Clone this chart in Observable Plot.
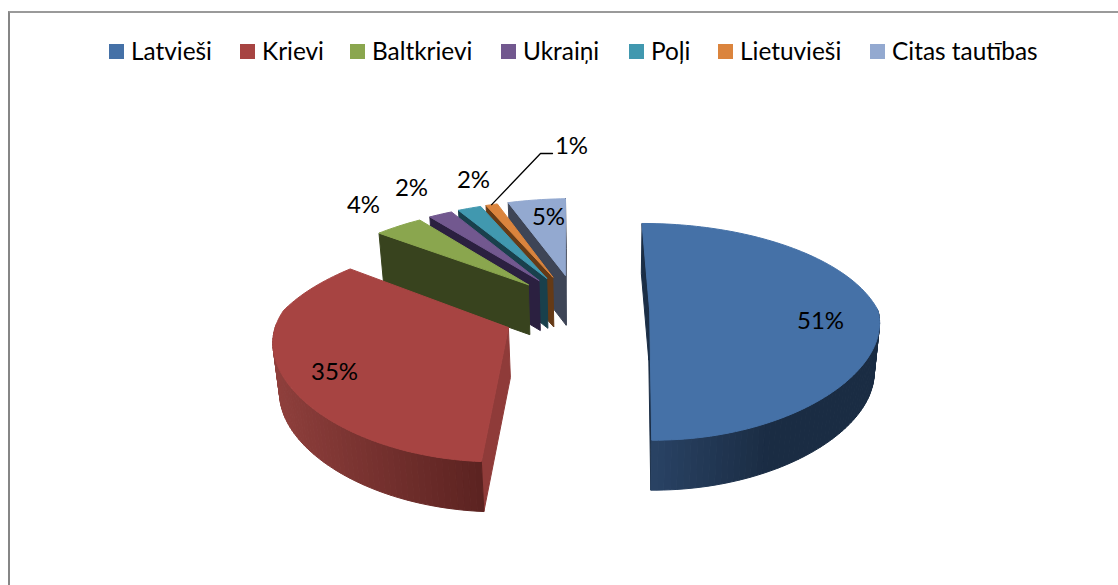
<!DOCTYPE html>
<html><head><meta charset="utf-8">
<script src="https://cdn.jsdelivr.net/npm/d3@7"></script>
<script src="https://cdn.jsdelivr.net/npm/@observablehq/plot@0.6"></script>
<style>
html,body{margin:0;padding:0;background:#fff;overflow:hidden}
#frame{position:absolute;left:8px;top:11px;width:1112px;height:576px;border-left:2px solid #868686;border-top:2px solid #9a9a9a;box-sizing:border-box}
#legend{position:absolute;left:109px;top:36px;display:flex;font:24.4px Lato,sans-serif;color:#000;line-height:30px;white-space:nowrap}
#legend span.k{display:inline-block;width:15px;height:15px;margin-right:7px;flex:none}
#legend div{display:flex;align-items:center}
#chart{position:absolute;left:0;top:0}
</style></head><body>
<div id="chart"></div><div id="frame"></div><div id="legend"></div>
<script>
const names=["Latvieši","Krievi","Baltkrievi","Ukraiņi","Poļi","Lietuvieši","Citas tautības"];
const values=[51,35,4,2,2,1,5];
const topColors=["#4571a7","#a74442","#8aa64e","#72588f","#4198af","#db843d","#93a9d0"];
const wallColors=["#1b2e46","#8f3b39","#38431e","#2b2040","#19404c","#653a16","#3e4556"];
const rimFrom=["#2b4568","#8f3f3c","#38431e","#2b2040","#19404c","#653a16","#3e4556"];
const rimTo=["#1a2c43","#5c2321","#38431e","#2b2040","#19404c","#653a16","#3e4556"];
const labelText=["51%","35%","4%","2%","2%","1%","5%"];
const labelX=[820,334,363,411,473,571,548];
const labelY=[321,372,205,188,180,146,217];
const itemWidths=[131,110,151,128,89,152,170];

// perspective view of the pie
const rot=-2,k=0.198,kNear=0.1,H=526,vy=-216,vx=607,A=233,xc=-0.134,ex=0.315,ey=0.37,depth=50,shrink=0.98;
const adjStart=[1.8,2,0,0,0,0,0],adjEnd=[-1,0,0,0,0,0,0],radiusX=[0.98,0.985,1,1,1,1,1],radiusY=[1,0.97,1,1,1,1,1];
const rad=Math.PI/180, total=d3.sum(values);
function proj(X,Y,bottom){
  const s=1/(1+k*Y), sx=Y<0?1/(1+kNear*Y):s;
  const x=vx+X*A*sx, y=vy+H*s;
  return bottom?[vx+(x-vx)*shrink,y+depth]:[x,y];
}
let cum=0;
const slices=values.map((v,i)=>{
  const a0=rot+cum/total*360; cum+=v; const a1=rot+cum/total*360; const m=(a0+a1)/2*rad;
  return {i,a0:a0+adjStart[i],a1:a1+adjEnd[i],ox:xc+ex*Math.sin(m),oy:ey*Math.cos(m)};
});
const rows=[];let pid=0;
function poly(pts,fill){pid++;for(const p of [...pts,pts[0]])rows.push({id:pid,x:p[0],y:p[1],fill});}
const rim=(s,a,b)=>proj(s.ox+radiusX[s.i]*Math.sin(a*rad),s.oy+radiusY[s.i]*Math.cos(a*rad),b);
const area=q=>d3.polygonArea(q);
const order=[6,5,4,3,2,0,1];
for(const n of order){
  const s=slices[n];
  const apT=proj(s.ox,s.oy,false),apB=proj(s.ox,s.oy,true);
  const q0=[apT,rim(s,s.a0,false),rim(s,s.a0,true),apB];
  const q1=[rim(s,s.a1,false),apT,apB,rim(s,s.a1,true)];
  if(area(q0)>0)poly(q0,wallColors[n]);
  if(area(q1)>0)poly(q1,wallColors[n]);
  const steps=Math.max(2,Math.ceil((s.a1-s.a0)/1.5));
  const col=d3.interpolateRgb(rimFrom[n],rimTo[n]);
  const xs=d3.range(steps+1).map(j=>rim(s,s.a0+(s.a1-s.a0)*j/steps,false)[0]);
  const lo=d3.min(xs),hi=d3.max(xs);
  for(let j=0;j<steps;j++){
    const a=s.a0+(s.a1-s.a0)*j/steps,b=s.a0+(s.a1-s.a0)*(j+1)/steps;
    if(Math.cos((a+b)/2*rad)<0.02){
      const q=[rim(s,a,false),rim(s,b,false),rim(s,b,true),rim(s,a,true)];
      const t=n===0?(q[0][0]-lo)/(0.55*(hi-lo)):(n===1?(q[0][0]-lo)/(hi-lo):0);
      poly(q,col(Math.min(1,Math.max(0,t))));
    }
  }
  const face=[apT];
  for(let j=0;j<=steps;j++)face.push(rim(s,s.a0+(s.a1-s.a0)*j/steps,false));
  poly(face,topColors[n]);
}
// leader for the smallest slice
const orange=slices[5];
const lp=rim(orange,(orange.a0+orange.a1)/2,false);
const leader=[{x:lp[0],y:lp[1]},{x:labelX[5]-31,y:labelY[5]+7},{x:labelX[5]-19,y:labelY[5]+7}];
const labels=labelText.map((t,i)=>({t,x:labelX[i],y:labelY[i]}));

const plot=Plot.plot({
  width:1118,height:585,margin:0,
  x:{domain:[0,1118],range:[0,1118],axis:null},
  y:{domain:[0,585],range:[0,585],axis:null},
  color:{type:"identity"},
  marks:[
    Plot.line(rows,{x:"x",y:"y",z:"id",fill:"fill",stroke:"fill",strokeWidth:1,curve:"linear"}),
    Plot.line(leader,{x:"x",y:"y",stroke:"#000",strokeWidth:1.3}),
    Plot.text(labels,{x:"x",y:"y",text:"t",fontSize:24,fontFamily:"Lato, sans-serif",fill:"#000"})
  ]
});
document.getElementById("chart").appendChild(plot);
const lg=document.getElementById("legend");
names.forEach((n,i)=>{
  const d=document.createElement("div");d.style.width=itemWidths[i]+"px";
  const sw=document.createElement("span");sw.className="k";sw.style.background=topColors[i];
  d.appendChild(sw);d.appendChild(document.createTextNode(n));lg.appendChild(d);
});
</script></body></html>
